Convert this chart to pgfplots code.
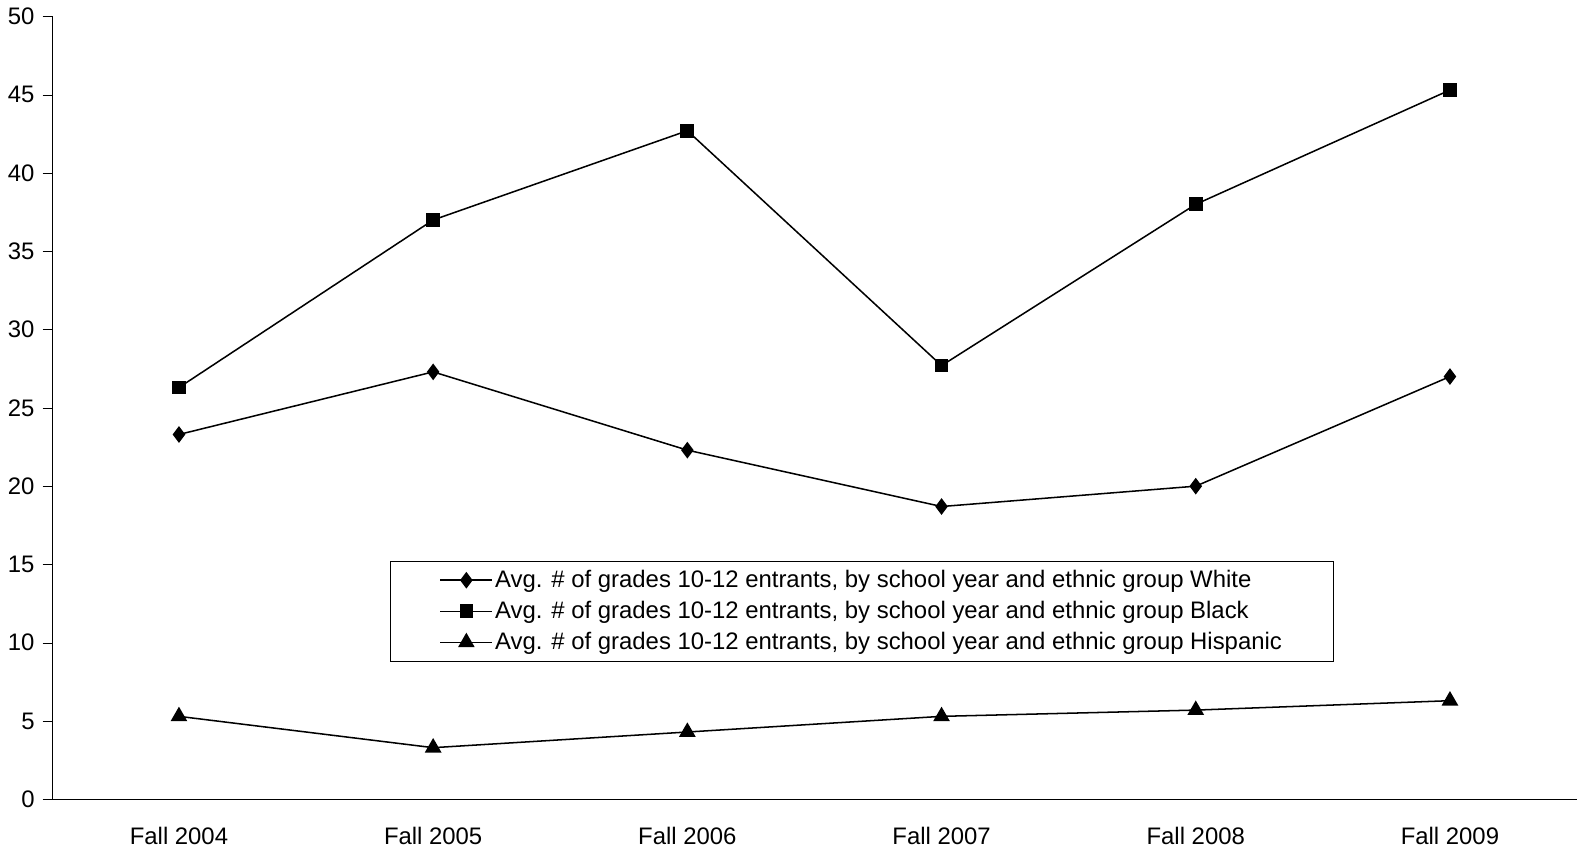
\documentclass[border=0pt]{standalone}
\usepackage{pgfplots}
\pgfplotsset{compat=1.18}
\usepackage{fontspec}
\setmainfont{Liberation Sans}
\begin{document}
\fontsize{23.5}{28}\selectfont
\begin{tikzpicture}
\begin{axis}[
  scale only axis, width=1500pt, height=770pt,
  xmin=-0.5, xmax=5.5, ymin=0, ymax=50,
  ytick={0,5,...,50},
  xtick={0,...,5}, xticklabels={Fall 2004,Fall 2005,Fall 2006,Fall 2007,Fall 2008,Fall 2009},
  extra x ticks={-0.5,0.5,1.5,2.5,3.5,4.5,5.5}, extra x tick labels={},
  extra x tick style={major tick length=9pt, tick style={black}},
  x tick label style={yshift=-10pt},
  major x tick style={draw=none},
  axis x line*=bottom, axis y line*=left,
  y axis line style={-}, x axis line style={-},
  ytick style={black}, tick align=outside, major tick length=9pt,
  every axis plot/.append style={black, line width=1.5pt},
  legend image code/.code={\draw[black, line width=1.5pt] (0cm,0cm) -- (1.8cm,0cm); \draw[black,line width=1.5pt,#1] plot coordinates {(0.9cm,0cm)};},
  legend style={at={(0.222,0.304)}, anchor=north west, draw=black, line width=0.6pt, font=\fontsize{23.5}{28}\selectfont, row sep=6pt, inner xsep=48pt, inner ysep=6pt},
  legend cell align=left,
  /pgf/number format/assume math mode=true,
]
\addplot[mark=diamond*, mark size=7pt, mark options={solid}] coordinates {(0,23.3)(1,27.3)(2,22.3)(3,18.7)(4,20.0)(5,27.0)};
\addlegendentry{Avg. \# of grades 10-12 entrants, by school year and ethnic group White}
\addplot[mark=square*, mark size=6pt] coordinates {(0,26.3)(1,37.0)(2,42.7)(3,27.7)(4,38.0)(5,45.3)};
\addlegendentry{Avg. \# of grades 10-12 entrants, by school year and ethnic group Black}
\addplot[mark=triangle*, mark size=8pt] coordinates {(0,5.3)(1,3.3)(2,4.3)(3,5.3)(4,5.7)(5,6.3)};
\addlegendentry{Avg. \# of grades 10-12 entrants, by school year and ethnic group Hispanic}
\end{axis}
\end{tikzpicture}
\end{document}
